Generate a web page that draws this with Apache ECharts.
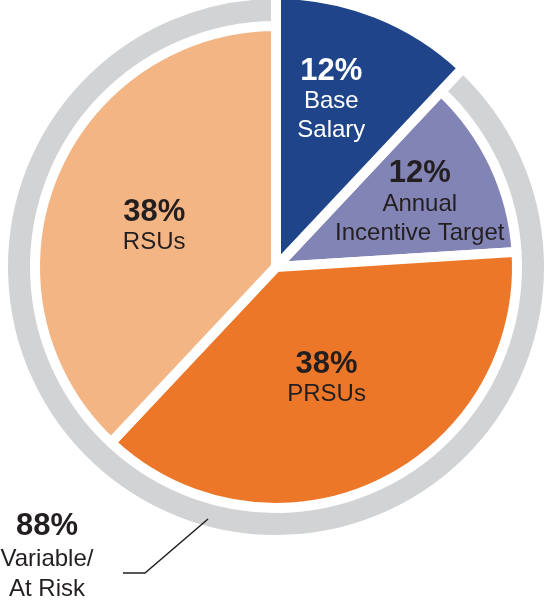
<!DOCTYPE html>
<html>
<head>
<meta charset="utf-8">
<script src="https://cdn.jsdelivr.net/npm/echarts@6/dist/echarts.min.js"></script>
<style>
html,body{margin:0;padding:0;background:#fff;}
#chart{width:545px;height:605px;}
</style>
</head>
<body>
<div id="chart"></div>
<script>
// ---- data ----
const categories = ['Base Salary', 'Annual Incentive Target', 'PRSUs', 'RSUs'];
const shares = [12, 12, 38, 38];
const nameLines = [['Base', 'Salary'], ['Annual', 'Incentive Target'], ['PRSUs'], ['RSUs']];
const atRiskShare = 88;
const atRiskLines = ['Variable/', 'At Risk'];

// ---- style ----
const sliceColors = ['#1F4489', '#8384B6', '#ED7728', '#F4B584'];
const labelColors = ['#FFFFFF', '#231F20', '#231F20', '#231F20'];
const labelOffsets = [[4, -37], [32, -12], [-2, 0], [-7, 5]];
const ringColor = '#D1D3D4';
const textDark = '#231F20';
const FONT = '"Liberation Sans", Arial, Helvetica, sans-serif';
const CX = 276, CY = 267;
const BW = 10;

function richFor(color) {
  return {
    p: { fontFamily: FONT, fontSize: 31, fontWeight: 'bold', color: color, lineHeight: 32 },
    n: { fontFamily: FONT, fontSize: 24, color: color, lineHeight: 29 }
  };
}

const mainData = categories.map((c, i) => {
  const item = {
    name: c,
    value: shares[i],
    itemStyle: { color: sliceColors[i] },
    label: {
      show: true,
      offset: labelOffsets[i],
      rich: richFor(labelColors[i]),
      formatter: '{p|' + shares[i] + '%}\n' + nameLines[i].map(s => '{n|' + s + '}').join('\n')
    }
  };
  if (i === 0) {
    item.itemStyle = { color: 'rgba(0,0,0,0)', borderWidth: 0 };
    item.label = { show: false };
  }
  return item;
});

const baseData = [
  { name: categories[0], value: shares[0], itemStyle: { color: sliceColors[0] },
    label: { show: true, offset: labelOffsets[0], rich: richFor(labelColors[0]),
      formatter: '{p|' + shares[0] + '%}\n' + nameLines[0].map(s => '{n|' + s + '}').join('\n') } },
  { name: 'Variable / At Risk', value: atRiskShare, itemStyle: { color: 'rgba(0,0,0,0)', borderWidth: 0 }, label: { show: false } }
];

const ringData = [
  { name: categories[0], value: shares[0], itemStyle: { color: 'rgba(0,0,0,0)', borderWidth: 0 } },
  { name: 'Variable / At Risk', value: atRiskShare, itemStyle: { color: ringColor } }
];

const common = {
  type: 'pie',
  center: [CX, CY],
  startAngle: 90,
  clockwise: true,
  avoidLabelOverlap: false,
  labelLine: { show: false },
  emphasis: { disabled: true },
  animation: false,
  itemStyle: { borderColor: '#FFFFFF', borderWidth: BW }
};

const chart = echarts.init(document.getElementById('chart'), null, { renderer: 'canvas' });
chart.setOption({
  backgroundColor: '#FFFFFF',
  animation: false,
  series: [
    Object.assign({}, common, {
      name: 'ring', radius: [240, 273], data: ringData, silent: true, z: 1,
      label: { show: false }
    }),
    Object.assign({}, common, {
      name: 'main', radius: [0, 241], data: mainData, z: 2,
      label: { show: true, position: 'inside' }
    }),
    Object.assign({}, common, {
      name: 'base', radius: [0, 273], data: baseData, z: 3,
      label: { show: true, position: 'inside' }
    })
  ],
  graphic: [
    {
      type: 'polyline',
      shape: { points: [[208, 519], [145, 573], [123, 573]] },
      style: { stroke: textDark, lineWidth: 1.5, fill: 'none' },
      z: 10
    },
    {
      type: 'text', x: 47, y: 526,
      style: { text: atRiskShare + '%', fontFamily: FONT, fontSize: 31, fontWeight: 'bold', fill: textDark, textAlign: 'center', textVerticalAlign: 'middle' },
      z: 10
    },
    {
      type: 'text', x: 47, y: 559,
      style: { text: atRiskLines[0], fontFamily: FONT, fontSize: 24, fill: textDark, textAlign: 'center', textVerticalAlign: 'middle' },
      z: 10
    },
    {
      type: 'text', x: 47, y: 589,
      style: { text: atRiskLines[1], fontFamily: FONT, fontSize: 24, fill: textDark, textAlign: 'center', textVerticalAlign: 'middle' },
      z: 10
    }
  ]
});
</script>
</body>
</html>
